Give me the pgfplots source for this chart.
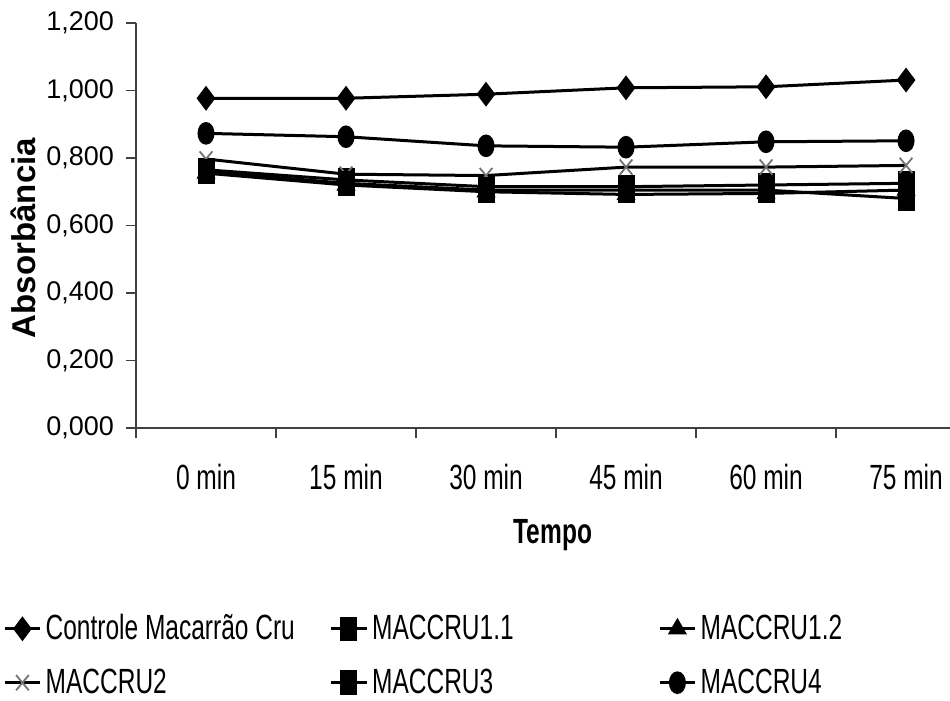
\documentclass[border=0pt]{standalone}
\usepackage{fontspec}
\setmainfont{Liberation Sans}
\newfontfamily\narrow[FakeStretch=0.7]{Liberation Sans}
\usepackage{pgfplots}
\pgfplotsset{compat=1.18}
\begin{document}
\begin{tikzpicture}
\begin{axis}[
  scale only axis,
  width=407pt, height=202.5pt,
  xmin=-0.5, xmax=5.314,
  ymin=0, ymax=1.2,
  axis lines=left,
  axis line style={-, black!75, line width=0.8pt},
  ytick={0,0.2,...,1.21},
  xtick={-0.5,0.5,1.5,2.5,3.5,4.5},
  xticklabels={},
  extra x ticks={0,1,2,3,4,5},
  extra x tick labels={0 min,15 min,30 min,45 min,60 min,75 min},
  extra x tick style={major tick length=0pt},
  tick align=outside,
  major tick length=5pt,
  tick style={black!75, line width=0.8pt},
  /pgf/number format/assume math mode=true,
  yticklabel style={font=\fontsize{13.5}{16}\selectfont, /pgf/number format/.cd, fixed, fixed zerofill, precision=3, use comma, 1000 sep={}},
  xticklabel style={font=\narrow\fontsize{17.5}{20}\selectfont},
  xticklabel shift=14.5pt,
  yticklabel shift=2.5pt,
  xlabel={Tempo},
  xlabel style={font=\narrow\bfseries\fontsize{17.5}{20}\selectfont, at={(axis description cs:0.512,-0.264)}, anchor=center},
  ylabel={Absorbância},
  ylabel style={font=\bfseries\fontsize{16.5}{19}\selectfont, at={(axis description cs:-0.139,0.469)}, anchor=center},
  every axis plot/.append style={black, line width=1.5pt},
  legend columns=3,
  legend style={draw=none, fill=none, at={(axis description cs:-0.171,-0.44)}, anchor=north west,
    font=\narrow\fontsize{17.5}{20}\selectfont, cells={anchor=west}, row sep=9pt, column sep=0pt},
  legend image code/.code={%
    \draw[mark repeat=2,mark phase=2] plot coordinates {(0cm,0cm) (0.31cm,0cm) (0.62cm,0cm)};
    \draw[black, solid, line width=1.6pt] (0cm,0cm) -- (0.17cm,0cm) (0.45cm,0cm) -- (0.62cm,0cm);},
]
\addplot[mark=diamond*, mark size=5pt, mark options={solid}] coordinates {(0,0.977) (1,0.977) (2,0.989) (3,1.008) (4,1.011) (5,1.031)};
\addlegendentry{\makebox[140pt][l]{Controle Macarrão Cru}}
\addplot[mark=square*, mark size=3.5pt, mark options={yscale=1.5}] coordinates {(0,0.765) (1,0.735) (2,0.715) (3,0.715) (4,0.720) (5,0.725)};
\addlegendentry{\makebox[141pt][l]{MACCRU1.1}}
\addplot[mark=triangle*, mark size=4pt] coordinates {(0,0.755) (1,0.720) (2,0.700) (3,0.692) (4,0.695) (5,0.705)};
\addlegendentry{MACCRU1.2}
\addplot[mark=x, mark size=4.5pt, mark options={black!55, line width=0.9pt, yscale=1.2}] coordinates {(0,0.797) (1,0.752) (2,0.748) (3,0.773) (4,0.773) (5,0.778)};
\addlegendentry{\makebox[140pt][l]{MACCRU2}}
\addplot[mark=square*, mark size=3.5pt, mark options={yscale=1.6}] coordinates {(0,0.760) (1,0.725) (2,0.705) (3,0.705) (4,0.705) (5,0.680)};
\addlegendentry{\makebox[141pt][l]{MACCRU3}}
\addplot[mark=*, mark size=3.5pt, mark options={yscale=1.4}] coordinates {(0,0.873) (1,0.863) (2,0.836) (3,0.832) (4,0.848) (5,0.851)};
\addlegendentry{MACCRU4}
\end{axis}
\pgfresetboundingbox
\path ([shift={(-68pt,-136pt)}]current axis.south west) rectangle ([shift={(0pt,11.5pt)}]current axis.north east);
\end{tikzpicture}
\end{document}
